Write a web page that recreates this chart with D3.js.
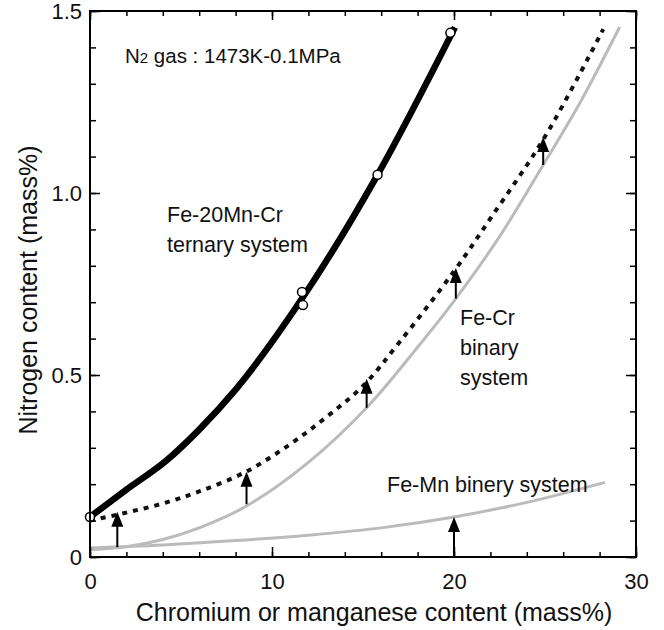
<!DOCTYPE html>
<html>
<head>
<meta charset="utf-8">
<script src="https://cdn.jsdelivr.net/npm/d3@7"></script>
<style>
  body { margin: 0; background: #fff; }
  text { font-family: "Liberation Sans", Arial, sans-serif; fill: #111; }
</style>
</head>
<body>
<div id="chart"></div>
<script>
// --- data ---
var ternaryX = [0, 2, 4.2, 6, 8, 11.65, 15.8, 20.05];
var ternaryY = [0.11, 0.185, 0.265, 0.35, 0.46, 0.71, 1.05, 1.455];
var ternaryPtX = [0, 11.65, 11.7, 15.8, 19.8];
var ternaryPtY = [0.11, 0.728, 0.692, 1.05, 1.44];

var crDashX = [0, 2, 4, 6, 8.6, 11, 13, 15, 17, 20, 22, 25, 28.2];
var crDashY = [0.10, 0.122, 0.147, 0.18, 0.235, 0.31, 0.385, 0.47, 0.59, 0.785, 0.93, 1.155, 1.45];

var crX = [0, 2, 4, 6, 8.6, 12, 15.2, 17.9, 20.1, 22.5, 24.9, 27, 29.1];
var crY = [0.02, 0.028, 0.048, 0.08, 0.14, 0.26, 0.41, 0.57, 0.71, 0.88, 1.077, 1.255, 1.456];

var mnX = [0, 4, 8, 12, 16, 20, 24, 28.3];
var mnY = [0.025, 0.033, 0.045, 0.06, 0.08, 0.11, 0.15, 0.205];

var arrowX = [1.5, 8.6, 15.2, 20.1, 24.9, 20];
var arrowFrom = [0.027, 0.145, 0.41, 0.71, 1.077, 0];
var arrowTo = [0.124, 0.234, 0.49, 0.794, 1.154, 0.11];

var xMajor = [0, 10, 20, 30];
var yMajor = [0, 0.5, 1.0, 1.5];

var W = 664, H = 630;
var m = {left: 90, right: 28, top: 11, bottom: 73};

var svg = d3.select("#chart").append("svg")
  .attr("width", W)
  .attr("height", H);

var scX = d3.scaleLinear().domain([0, 30]).range([m.left, W - m.right]);
var scY = d3.scaleLinear().domain([0, 1.5]).range([H - m.bottom, m.top]);

var zip = function(xs, ys) { return xs.map((x, i) => [x, ys[i]]); };
var lnMkr = function(curve) {
  return d3.line()
    .curve(curve)
    .x(d => scX(d[0]))
    .y(d => scY(d[1]));
};
var smooth = lnMkr(d3.curveCatmullRom.alpha(0.5));

// --- curves ---
svg.append("path")
  .attr("d", smooth(zip(mnX, mnY)))
  .attr("fill", "none").attr("stroke", "#bbb").attr("stroke-width", 3);

svg.append("path")
  .attr("d", smooth(zip(crX, crY)))
  .attr("fill", "none").attr("stroke", "#bbb").attr("stroke-width", 3);

svg.append("path")
  .attr("d", smooth(zip(crDashX, crDashY)))
  .attr("fill", "none").attr("stroke", "#111").attr("stroke-width", 4)
  .attr("stroke-dasharray", "5,6");

svg.append("path")
  .attr("d", lnMkr(d3.curveMonotoneX)(zip(ternaryX, ternaryY)))
  .attr("fill", "none").attr("stroke", "#000").attr("stroke-width", 6.5);

// --- arrows ---
var arrows = svg.append("g");
arrowX.forEach(function(x, i) {
  var px = scX(x), y0 = scY(arrowFrom[i]), y1 = scY(arrowTo[i]);
  arrows.append("line")
    .attr("x1", px).attr("x2", px)
    .attr("y1", y0).attr("y2", y1 + 10)
    .attr("stroke", "#000").attr("stroke-width", 2);
  arrows.append("path")
    .attr("d", `M${px},${y1}L${px - 6},${y1 + 15}L${px + 6},${y1 + 15}Z`)
    .attr("fill", "#000");
});

// --- open circles ---
svg.append("g").selectAll("circle")
  .data(zip(ternaryPtX, ternaryPtY))
  .enter()
  .append("circle")
  .attr("cx", d => scX(d[0]))
  .attr("cy", d => scY(d[1]))
  .attr("r", 4.5)
  .attr("fill", "#fff")
  .attr("stroke", "#000")
  .attr("stroke-width", 1.5);

// --- frame and ticks ---
var x0 = scX.range()[0], x1 = scX.range()[1];
var y0 = scY.range()[0], y1 = scY.range()[1];
var xMinor = d3.range(0, 31, 2);
var yMinor = d3.range(0, 16).map(d => d / 10);

var tickStyle = function(g) {
  g.select(".domain").remove();
  g.selectAll("line").attr("stroke", "#000").attr("stroke-width", 1.5);
  g.selectAll("text").attr("font-size", 22).attr("fill", "#111");
};

svg.append("g").attr("transform", `translate(0,${y0})`)
  .call(d3.axisBottom(scX).tickValues(xMinor).tickSizeInner(-5).tickSizeOuter(0).tickFormat(""))
  .call(tickStyle);
svg.append("g").attr("transform", `translate(0,${y0})`)
  .call(d3.axisBottom(scX).tickValues(xMajor).tickSizeInner(-10).tickSizeOuter(0).tickPadding(16).tickFormat(d3.format("d")))
  .call(tickStyle);
svg.append("g").attr("transform", `translate(0,${y1})`)
  .call(d3.axisTop(scX).tickValues(xMinor).tickSizeInner(-5).tickSizeOuter(0).tickFormat(""))
  .call(tickStyle);
svg.append("g").attr("transform", `translate(0,${y1})`)
  .call(d3.axisTop(scX).tickValues(xMajor).tickSizeInner(-9).tickSizeOuter(0).tickFormat(""))
  .call(tickStyle);

svg.append("g").attr("transform", `translate(${x0},0)`)
  .call(d3.axisLeft(scY).tickValues(yMinor).tickSizeInner(-6).tickSizeOuter(0).tickFormat(""))
  .call(tickStyle);
svg.append("g").attr("transform", `translate(${x0},0)`)
  .call(d3.axisLeft(scY).tickValues(yMajor).tickSizeInner(-10).tickSizeOuter(0).tickPadding(8)
    .tickFormat(d => d === 0 ? "0" : d3.format(".1f")(d)))
  .call(tickStyle);
svg.append("g").attr("transform", `translate(${x1},0)`)
  .call(d3.axisRight(scY).tickValues(yMinor).tickSizeInner(-6).tickSizeOuter(0).tickFormat(""))
  .call(tickStyle);
svg.append("g").attr("transform", `translate(${x1},0)`)
  .call(d3.axisRight(scY).tickValues(yMajor).tickSizeInner(-10).tickSizeOuter(0).tickFormat(""))
  .call(tickStyle);

svg.append("rect")
  .attr("x", x0).attr("y", y1)
  .attr("width", x1 - x0).attr("height", y0 - y1)
  .attr("fill", "none").attr("stroke", "#000").attr("stroke-width", 2);

// --- axis titles ---
svg.append("text")
  .attr("x", 374).attr("y", 621)
  .attr("text-anchor", "middle")
  .attr("font-size", 25)
  .text("Chromium or manganese content (mass%)");

svg.append("text")
  .attr("transform", "translate(37,290) rotate(-90)")
  .attr("text-anchor", "middle")
  .attr("font-size", 25)
  .text("Nitrogen content (mass%)");

// --- annotations ---
var note = svg.append("text")
  .attr("x", 125).attr("y", 63)
  .attr("font-size", 20.5);
note.append("tspan").text("N");
note.append("tspan").attr("font-size", 15).text("2");
note.append("tspan").text(" gas : 1473K-0.1MPa");

var label = function(x, y, lines) {
  var t = svg.append("text").attr("font-size", 21.5);
  lines.forEach(function(s, i) {
    t.append("tspan").attr("x", x).attr("y", y + i * 30).text(s);
  });
};
label(167, 222, ["Fe-20Mn-Cr", "ternary system"]);
label(460, 325, ["Fe-Cr", "binary", "system"]);
label(387, 492, ["Fe-Mn binery system"]);
</script>
</body>
</html>
